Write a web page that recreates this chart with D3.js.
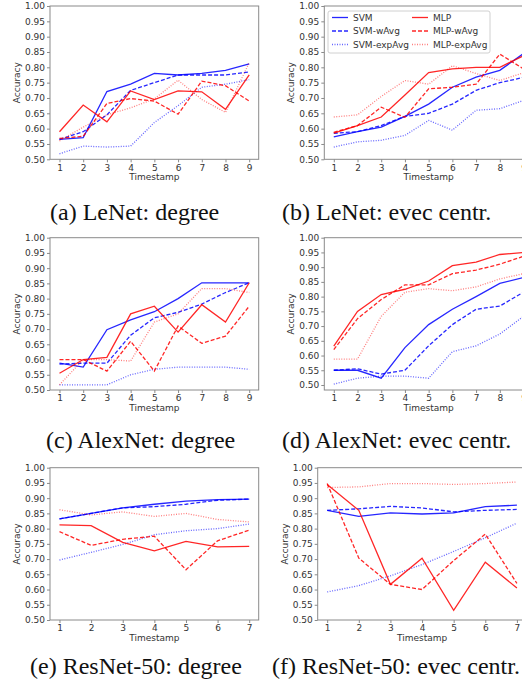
<!doctype html>
<html>
<head>
<meta charset="utf-8">
<script src="https://d3js.org/d3.v7.min.js"></script>
<style>
  body { margin: 0; background: #fff; }
  text { font-family: "DejaVu Sans", sans-serif; }
  .caption { font-family: "Liberation Serif", "Times New Roman", serif; }
</style>
</head>
<body>
<div id="chart"></div>
<script>
// series order used by every panel array below
var seriesNames = ["SVM", "SVM-wAvg", "SVM-expAvg", "MLP", "MLP-wAvg", "MLP-expAvg"];
var timestamps9 = [1, 2, 3, 4, 5, 6, 7, 8, 9];
var timestamps7 = [1, 2, 3, 4, 5, 6, 7];
var yTicks = [0.50, 0.55, 0.60, 0.65, 0.70, 0.75, 0.80, 0.85, 0.90, 0.95, 1.00];
var captions = ["(a) LeNet: degree", "(b) LeNet: evec centr.", "(c) AlexNet: degree",
                "(d) AlexNet: evec centr.", "(e) ResNet-50: degree", "(f) ResNet-50: evec centr."];

var lenetDegree = [
  [0.565, 0.571, 0.721, 0.745, 0.780, 0.775, 0.780, 0.790, 0.811],
  [0.565, 0.590, 0.645, 0.725, 0.750, 0.775, 0.775, 0.775, 0.785],
  [0.518, 0.543, 0.540, 0.543, 0.620, 0.675, 0.735, 0.745, 0.760],
  [0.590, 0.677, 0.622, 0.723, 0.695, 0.723, 0.720, 0.663, 0.775],
  [0.568, 0.575, 0.682, 0.698, 0.690, 0.647, 0.755, 0.740, 0.690],
  [0.560, 0.605, 0.645, 0.668, 0.697, 0.758, 0.695, 0.653, 0.815]
];
var lenetEvec = [
  [0.573, 0.590, 0.605, 0.640, 0.680, 0.735, 0.768, 0.790, 0.845],
  [0.585, 0.590, 0.610, 0.640, 0.650, 0.680, 0.725, 0.750, 0.767],
  [0.540, 0.557, 0.562, 0.578, 0.627, 0.595, 0.660, 0.665, 0.692],
  [0.585, 0.610, 0.638, 0.710, 0.783, 0.795, 0.800, 0.800, 0.838],
  [0.588, 0.610, 0.670, 0.637, 0.730, 0.735, 0.745, 0.843, 0.795],
  [0.638, 0.645, 0.705, 0.757, 0.745, 0.805, 0.780, 0.757, 0.782]
];
var alexnetDegree = [
  [0.588, 0.575, 0.698, 0.730, 0.757, 0.800, 0.852, 0.852, 0.852],
  [0.585, 0.588, 0.588, 0.680, 0.737, 0.755, 0.782, 0.820, 0.852],
  [0.517, 0.517, 0.517, 0.550, 0.568, 0.575, 0.575, 0.575, 0.568],
  [0.555, 0.600, 0.607, 0.750, 0.775, 0.690, 0.780, 0.723, 0.852],
  [0.600, 0.600, 0.562, 0.660, 0.562, 0.710, 0.653, 0.677, 0.775],
  [0.517, 0.600, 0.600, 0.595, 0.723, 0.750, 0.833, 0.833, 0.820]
];
var alexnetEvec = [
  [0.550, 0.550, 0.523, 0.627, 0.705, 0.757, 0.800, 0.845, 0.865],
  [0.550, 0.555, 0.537, 0.550, 0.633, 0.705, 0.757, 0.768, 0.815],
  [0.503, 0.523, 0.530, 0.530, 0.523, 0.613, 0.633, 0.673, 0.733],
  [0.632, 0.750, 0.807, 0.825, 0.853, 0.905, 0.917, 0.943, 0.950],
  [0.620, 0.725, 0.790, 0.840, 0.840, 0.878, 0.890, 0.910, 0.937],
  [0.588, 0.588, 0.733, 0.815, 0.827, 0.820, 0.833, 0.860, 0.878]
];
var resnetDegree = [
  [0.832, 0.850, 0.868, 0.880, 0.890, 0.895, 0.897],
  [0.832, 0.850, 0.868, 0.872, 0.880, 0.893, 0.897],
  [0.697, 0.722, 0.748, 0.780, 0.793, 0.800, 0.815],
  [0.812, 0.810, 0.755, 0.727, 0.758, 0.740, 0.742],
  [0.790, 0.745, 0.765, 0.775, 0.665, 0.760, 0.795],
  [0.862, 0.845, 0.855, 0.840, 0.850, 0.830, 0.822]
];
var resnetEvec = [
  [0.860, 0.840, 0.852, 0.848, 0.852, 0.872, 0.877],
  [0.860, 0.865, 0.873, 0.868, 0.855, 0.860, 0.863],
  [0.592, 0.613, 0.645, 0.682, 0.725, 0.770, 0.818],
  [0.945, 0.860, 0.617, 0.703, 0.532, 0.690, 0.605],
  [0.948, 0.703, 0.617, 0.600, 0.695, 0.782, 0.620],
  [0.935, 0.937, 0.948, 0.948, 0.945, 0.948, 0.953]
];

// line styles per series
var styles = [
  {color: "#0000ff", dash: null,    opacity: 0.85},
  {color: "#0000ff", dash: "4,2",   opacity: 0.85},
  {color: "#0000ff", dash: "1,1.5", opacity: 0.6},
  {color: "#ff0000", dash: null,    opacity: 0.85},
  {color: "#ff0000", dash: "4,2",   opacity: 0.85},
  {color: "#ff0000", dash: "1,1.5", opacity: 0.5}
];

var panels = [
  {data: lenetDegree,   ts: timestamps9, left: 50,    top: 6,     bottom: 159.3, yMin: 0.5,   capX: 50,  capY: 220},
  {data: lenetEvec,     ts: timestamps9, left: 324.3, top: 6,     bottom: 159.3, yMin: 0.5,   capX: 282, capY: 220},
  {data: alexnetDegree, ts: timestamps9, left: 50,    top: 237.7, bottom: 390,   yMin: 0.5,   capX: 46,  capY: 448},
  {data: alexnetEvec,   ts: timestamps9, left: 324.3, top: 237.7, bottom: 390,   yMin: 0.483, capX: 282, capY: 448},
  {data: resnetDegree,  ts: timestamps7, left: 50,    top: 467.7, bottom: 620,   yMin: 0.5,   capX: 30,  capY: 674},
  {data: resnetEvec,    ts: timestamps7, left: 317.7, top: 467.7, bottom: 620,   yMin: 0.5,   capX: 272, capY: 674}
];
var plotW = 208.7;

var svg = d3.select("#chart").append("svg")
    .attr("width", 522)
    .attr("height", 687)
    .style("display", "block");

svg.append("rect").attr("width", 522).attr("height", 687).attr("fill", "#fff");

panels.forEach(function(p, i) {
    var n = p.ts.length;
    var x = d3.scaleLinear()
        .domain([1 - (n - 1) * 0.05, n + (n - 1) * 0.05])
        .range([p.left, p.left + plotW]);
    var y = d3.scaleLinear()
        .domain([p.yMin, 1.0])
        .range([p.bottom, p.top]);

    var g = svg.append("g");

    // lines
    var line = d3.line()
        .x(function(d, j) { return x(p.ts[j]); })
        .y(function(d) { return y(d); });

    p.data.forEach(function(vals, k) {
        g.append("path")
            .datum(vals)
            .attr("fill", "none")
            .attr("stroke", styles[k].color)
            .attr("stroke-opacity", styles[k].opacity)
            .attr("stroke-width", 1.3)
            .attr("stroke-dasharray", styles[k].dash)
            .attr("d", line);
    });

    // frame
    g.append("rect")
        .attr("x", p.left).attr("y", p.top)
        .attr("width", plotW).attr("height", p.bottom - p.top)
        .attr("fill", "none")
        .attr("stroke", "#8a8a8a")
        .attr("stroke-width", 1);

    // axes
    var xAxis = g.append("g")
        .attr("transform", "translate(0," + p.bottom + ")")
        .call(d3.axisBottom(x).tickValues(p.ts).tickFormat(d3.format("d")).tickSize(3).tickPadding(2));
    var yAxis = g.append("g")
        .attr("transform", "translate(" + p.left + ",0)")
        .call(d3.axisLeft(y).tickValues(yTicks).tickFormat(d3.format(".2f")).tickSize(3).tickPadding(2));
    [xAxis, yAxis].forEach(function(a) {
        a.select(".domain").remove();
        a.selectAll("line").attr("stroke", "#8a8a8a");
        a.selectAll("text").attr("fill", "#333").style("font-size", "9px")
            .style("font-family", "DejaVu Sans");
    });

    // axis labels
    g.append("text")
        .attr("x", p.left + plotW / 2)
        .attr("y", p.bottom + 21)
        .attr("text-anchor", "middle")
        .attr("fill", "#333")
        .style("font-size", "9px")
        .text("Timestamp");
    g.append("text")
        .attr("transform", "translate(" + (p.left - 30) + "," + ((p.top + p.bottom) / 2) + ") rotate(-90)")
        .attr("text-anchor", "middle")
        .attr("fill", "#333")
        .style("font-size", "9px")
        .text("Accuracy");

    // caption
    svg.append("text")
        .attr("class", "caption")
        .attr("x", p.capX)
        .attr("y", p.capY)
        .attr("fill", "#111")
        .style("font-size", "24px")
        .text(captions[i]);
});

// legend in panel (b)
var leg = svg.append("g").attr("transform", "translate(328,11)");
leg.append("rect")
    .attr("width", 162).attr("height", 42).attr("rx", 2)
    .attr("fill", "#fff").attr("fill-opacity", 0.8)
    .attr("stroke", "#d0d0d0");
seriesNames.forEach(function(name, k) {
    var col = Math.floor(k / 3), row = k % 3;
    var ex = 4 + col * 80, ey = 6.5 + row * 13.5;
    leg.append("line")
        .attr("x1", ex).attr("x2", ex + 16)
        .attr("y1", ey).attr("y2", ey)
        .attr("stroke", styles[k].color)
        .attr("stroke-opacity", styles[k].opacity)
        .attr("stroke-width", 1.3)
        .attr("stroke-dasharray", styles[k].dash);
    leg.append("text")
        .attr("x", ex + 21).attr("y", ey + 3.2)
        .attr("fill", "#333")
        .style("font-size", "9px")
        .text(name);
});
</script>
</body>
</html>
